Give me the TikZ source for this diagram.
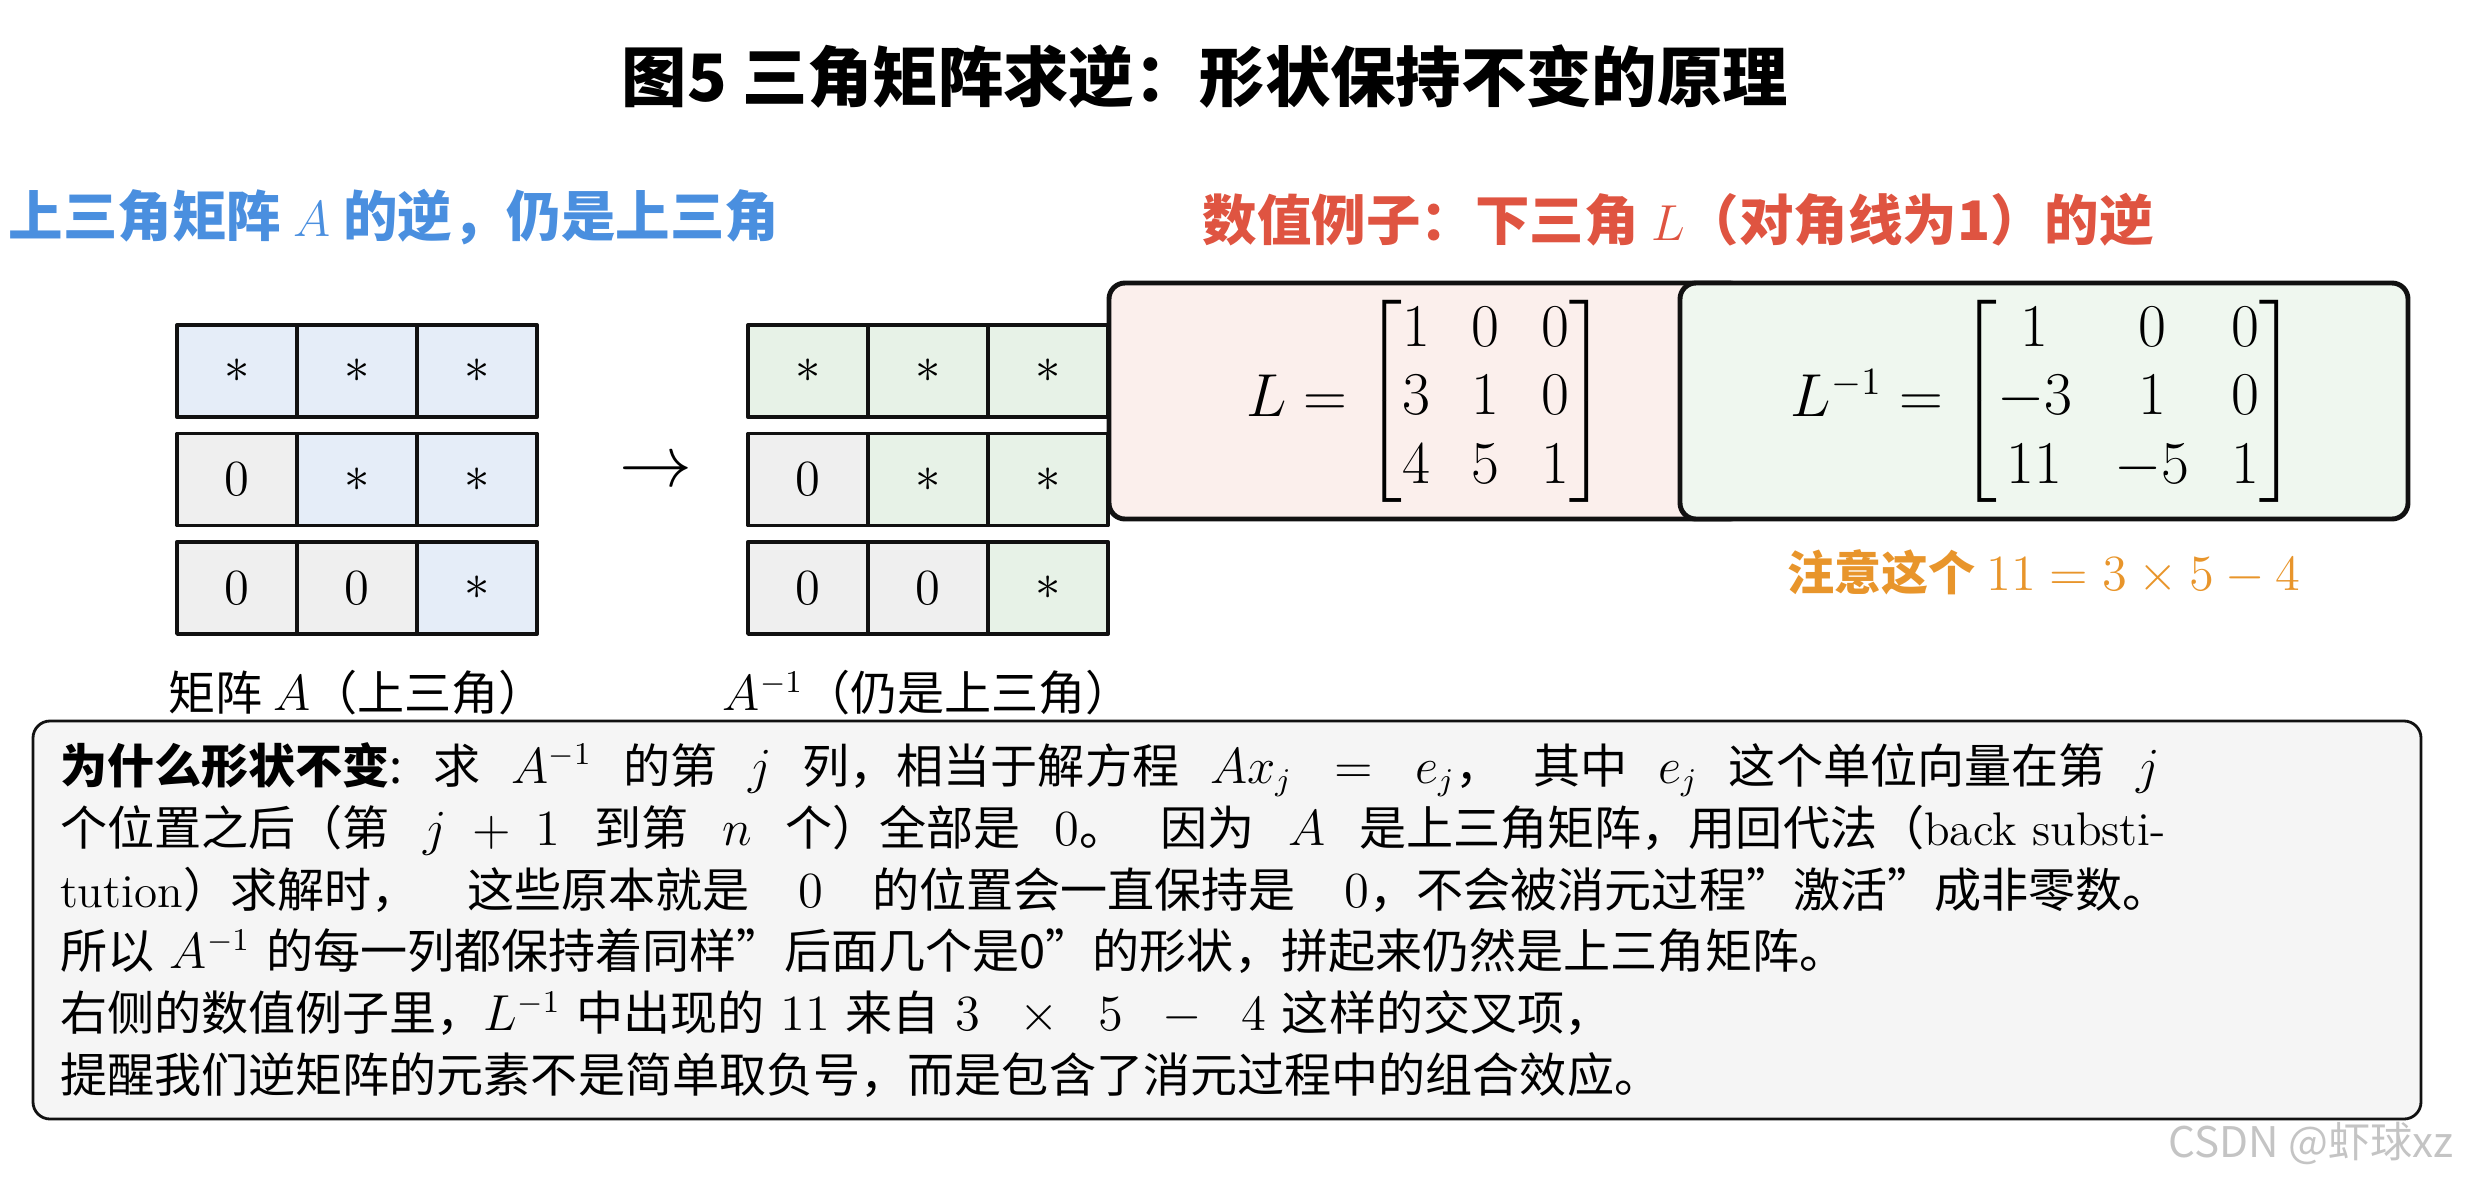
\documentclass[tikz,border=0pt]{standalone}
\usepackage{amsmath,amssymb}
\usepackage{xcolor}
\usepackage{fontspec}
\usepackage{tikz}
\usetikzlibrary{positioning,matrix}
\newfontfamily\cjk{Noto Sans CJK SC}
\newcommand\titlesize{\fontsize{18.6}{22}\selectfont}
\newcommand\headsize{\fontsize{15.5}{19}\selectfont}
\newcommand\bodysize{\fontsize{13.4}{17.6}\selectfont}
\newcommand\matsize{\fontsize{16}{19.5}\selectfont}
\newcommand\gridsize{\fontsize{15}{18}\selectfont}
\newcommand\arrowsize{\fontsize{19.6}{24}\selectfont}
\newcommand\marksize{\fontsize{12}{14}\selectfont}
\newcommand\gap{\hspace{0.25em plus 1fil}}
\definecolor{ink}{HTML}{111111}
\definecolor{headblue}{HTML}{4A8FDF}
\definecolor{headred}{HTML}{DF5441}
\definecolor{noteorange}{HTML}{E8952B}
\definecolor{cellblue}{HTML}{E5EDF8}
\definecolor{cellgreen}{HTML}{E7F2E7}
\definecolor{cellgray}{HTML}{EFEFEF}
\definecolor{boxpink}{HTML}{FBEFEC}
\definecolor{boxgreen}{HTML}{EFF7EF}
\definecolor{boxgray}{HTML}{F5F5F5}
\definecolor{markgray}{HTML}{C4C4C4}
\tikzset{
    every picture/.style={line cap=round,line join=round},
    gridcell/.style={draw=ink,line width=1.1pt,minimum width=12mm,minimum height=9.2mm,
      inner sep=0pt,outer sep=0pt,anchor=center,font=\gridsize},
    zerocell/.style={fill=cellgray},
    panelbox/.style={draw=ink,line width=1.4pt,rounded corners=1.6mm,
      minimum height=23.6mm,inner sep=0pt,font=\matsize,
      execute at begin node={\setlength{\arraycolsep}{6pt}}},
    heading/.style={font=\cjk\headsize\bfseries,anchor=west,inner sep=0pt},
    caption/.style={font=\cjk\bodysize,inner sep=0pt},
    whybox/.style={draw=ink,fill=boxgray,line width=0.8pt,rounded corners=1.7mm,
      text width=233.4mm,inner xsep=2.7mm,minimum height=39.8mm,align=left,
      font=\cjk\bodysize}
}
\begin{document}
\begin{tikzpicture}[font=\cjk\bodysize]
  \useasboundingbox (0,0) rectangle (24.79,-11.89);
  \node[font=\cjk\titlesize\bfseries] (title) at (12.05,-0.77) {图5 三角矩阵求逆：形状保持不变的原理};
  \node[heading,text=headblue] (headA) at (0.08,-2.17) {上三角矩阵 $A$ 的逆，仍是上三角};
  \node[heading,text=headred] (headL) at (12.02,-2.20) {数值例子：下三角 $L$（对角线为1）的逆};

  \matrix (mA) [matrix of math nodes,nodes={gridcell,fill=cellblue},
    row sep=1.25mm,column sep=-1.1pt] at (3.57,-4.795) {
    * & * & * \\
    |[zerocell]| 0 & * & * \\
    |[zerocell]| 0 & |[zerocell]| 0 & * \\
  };
  \node[font=\arrowsize] (arr) at (6.56,-4.73) {$\rightarrow$};
  \matrix (mAinv) [matrix of math nodes,nodes={gridcell,fill=cellgreen},
    row sep=1.25mm,column sep=-1.1pt] at (9.28,-4.795) {
    * & * & * \\
    |[zerocell]| 0 & * & * \\
    |[zerocell]| 0 & |[zerocell]| 0 & * \\
  };
  \node[caption] (capA) at (3.57,-6.93) {矩阵 $A$（上三角）};
  \node[caption] (capAinv) at (9.28,-6.93) {$A^{-1}$（仍是上三角）};

  \node[panelbox,fill=boxpink,minimum width=63.6mm] (Lbox) at (14.27,-4.01)
    {$L = \begin{bmatrix}1&0&0\\3&1&0\\4&5&1\end{bmatrix}$};
  \node[panelbox,fill=boxgreen,minimum width=72.8mm] (Linvbox) at (20.44,-4.01)
    {$L^{-1} = \begin{bmatrix}1&0&0\\-3&1&0\\11&-5&1\end{bmatrix}$};
  \node[caption,text=noteorange] (note) at (20.44,-5.72) {{\bfseries 注意这个} $11 = 3\times 5 - 4$};

  \node[whybox] (why) at (12.27,-9.20) {%
    \makebox[210mm][s]{{\bfseries 为什么形状不变}:\gap 求\gap $A^{-1}$\gap 的第\gap $j$\gap 列，相当于解方程\gap $Ax_j \;\;=\;\; e_j$，\gap 其中\gap $e_j$\gap 这个单位向量在第\gap $j$}\\
    \makebox[210.6mm][s]{个位置之后（第\gap $j \;+\; 1$\gap 到第\gap $n$\gap 个）全部是\gap $0$。\gap 因为\gap $A$\gap 是上三角矩阵，用回代法（{\rmfamily back substi-}}\\
    \makebox[211mm][s]{{\rmfamily tution}）求解时，\gap 这些原本就是\gap $0$\gap 的位置会一直保持是\gap $0$，不会被消元过程”激活”成非零数。}\\
    所以 $A^{-1}$ 的每一列都保持着同样”后面几个是0”的形状，拼起来仍然是上三角矩阵。\\
    右侧的数值例子里，$L^{-1}$ 中出现的 $11$ 来自 $3 \;\;\times\;\; 5 \;\;-\;\; 4$ 这样的交叉项，\\
    提醒我们逆矩阵的元素不是简单取负号，而是包含了消元过程中的组合效应。};
  \node[font=\cjk\marksize,text=markgray,anchor=east] (mark) at (24.66,-11.43) {CSDN @虾球xz};
\end{tikzpicture}
\end{document}
